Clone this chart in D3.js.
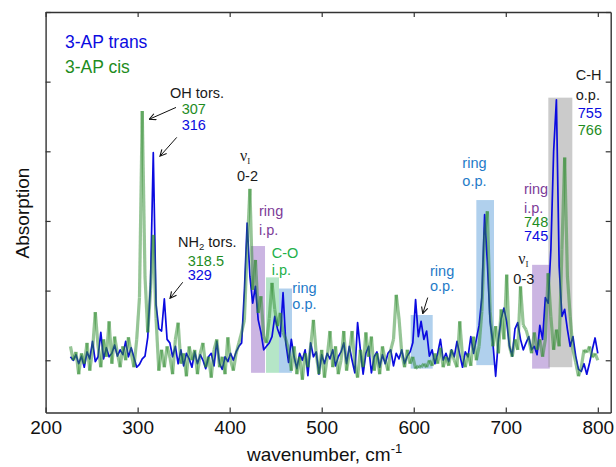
<!DOCTYPE html>
<html>
<head>
<meta charset="utf-8">
<script src="https://cdn.jsdelivr.net/npm/d3@7"></script>
<style>
  body { margin: 0; background: #fff; }
  #chart svg { display: block; font-family: "Liberation Sans", Arial, sans-serif; }
</style>
</head>
<body>
<div id="chart"></div>
<script>
// wavenumber grid, cm-1 (3 cm-1 steps, 227..800)
var wavenumbers = d3.range(227, 801, 3);

// 3-AP trans (blue)
var transValues = [
  0.05, 0.0, 0.08, -0.05, 0.06, -0.1, 0.12, 0.02, 0.27, -0.02,     // 227
  0.05, 0.4, 0.02, 0.18, 0.05, 0.1, 0.22, 0.06, 0.15, 0.08,         // 257
  0.27, 0.05, 0.18, 0.04, -0.1, -0.06, 0.02, 0.06, 0.33, 1.1,       // 287
  2.98, 0.8, 0.45, 0.42, 0.88, 0.3, 0.25, 0.05, 0.2, -0.05,         // 317
  0.15, -0.08, 0.1, 0.02, -0.1, 0.12, -0.05, 0.08, 0.0, -0.12,      // 347
  0.05, 0.1, -0.08, 0.27, -0.05, -0.13, 0.05, -0.02, 0.1, 0.0,      // 377
  0.12, 0.2, 0.25, 1.0, 1.97, 1.2, 0.82, 1.06, 0.58, 0.4,           // 407
  0.15, 0.2, 0.25, 0.34, 0.63, 0.45, 0.34, 0.97, 0.25, -0.03,       // 437
  0.3, 0.05, -0.12, 0.1, 0.0, 0.15, -0.22, 0.25, 0.05, 0.12,        // 467
  -0.2, 0.08, -0.05, 0.1, 0.02, 0.15, -0.08, 0.05, 0.12, 0.25,      // 497
  -0.05, 0.2, 0.0, -0.18, 0.54, 0.15, -0.2, 0.1, 0.2, -0.18,        // 527
  0.05, 0.12, -0.1, 0.08, -0.05, 0.1, 0.15, -0.08, 0.1, 0.02,       // 557
  0.15, -0.05, 0.06, 0.12, 0.25, 0.87, 0.34, 0.56, 0.3, 0.42,       // 587
  0.06, 0.15, -0.05, 0.1, 0.3, 0.0, 0.1, -0.02, 0.15, 0.05,         // 617
  0.27, 0.08, -0.1, 0.12, 0.05, 0.34, 0.1, 0.3, 0.5, 0.9,           // 647
  2.09, 1.4, 0.55, 0.25, -0.23, 0.3, 0.6, 0.75, 0.55, 0.2,          // 677
  0.06, 0.45, 0.54, 0.3, 0.15, 0.25, 0.34, 0.15, 0.2, 0.08,         // 707
  0.5, 0.3, 0.9, 0.82, 1.59, 3.0, 3.74, 1.35, 0.63, 0.73,           // 737
  0.44, 0.2, 0.34, 0.06, -0.13, -0.16, -0.05, -0.2, -0.04, 0.15,    // 767
  0.32, 0.1                                                         // 797
];

// 3-AP cis (green)
var cisValues = [
  0.2, 0.0, 0.12, -0.2, 0.1, -0.05, 0.25, -0.15, 0.15, 0.69,        // 227
  0.2, -0.1, 0.3, 0.05, 0.56, -0.05, 0.34, 0.1, -0.1, 0.2,          // 257
  0.0, 0.33, 0.1, -0.1, 0.3, 0.9, 3.58, 1.2, 0.4, 1.0,              // 287
  1.8, 0.6, -0.15, 0.15, -0.1, 0.2, 0.05, -0.2, 0.3, 0.54,          // 317
  -0.05, 0.1, -0.23, 0.2, 0.0, 0.15, -0.2, 0.1, 0.25, -0.1,         // 347
  0.05, -0.25, 0.15, 0.3, -0.1, 0.05, -0.2, 0.33, 0.0, -0.15,       // 377
  0.1, 0.25, 0.4, 0.58, 1.6, 2.46, 1.01, 1.44, 0.68, 0.92,          // 407
  0.34, 0.25, 0.6, 1.11, 0.73, 0.49, 0.68, 0.4, 0.3, 0.15,          // 437
  -0.15, 0.2, -0.2, 0.05, -0.28, 0.1, -0.1, 0.2, 0.58, 0.1,         // 467
  -0.2, 0.15, -0.25, 0.05, 0.42, -0.1, 0.2, -0.2, 0.0, 0.42,        // 497
  -0.15, 0.1, 0.42, -0.05, -0.25, 0.15, -0.1, 0.4, 0.05, 0.34,      // 527
  -0.15, 0.1, -0.2, 0.2, 0.0, -0.15, 0.15, 0.3, 0.94, 0.6,          // 557
  0.1, -0.1, 0.15, -0.05, 0.05, -0.12, -0.08, -0.1, -0.05, -0.1,    // 587
  0.0, -0.08, 0.1, -0.05, 0.18, -0.1, 0.05, -0.08, 0.15, 0.0,       // 617
  -0.1, 0.56, 0.05, -0.1, 0.1, -0.08, 0.34, 0.0, 0.2, 0.7,          // 647
  1.8, 2.14, 0.7, 0.2, 0.49, 0.1, 0.73, 0.3, 1.23, 0.2,             // 677
  0.05, 0.3, 0.15, 1.06, 0.5, 0.44, 0.3, 0.1, 0.4, 0.15,            // 707
  0.3, 0.05, 0.3, 1.25, 0.63, 0.15, 0.44, 0.2, 1.59, 2.91,          // 737
  1.2, 0.63, 0.15, -0.03, -0.23, -0.1, 0.15, 0.11, 0.2, 0.04,       // 767
  0.1, 0.0                                                          // 797
];

var xTicks = [200, 300, 400, 500, 600, 700, 800];
var yTicks = [0, 1, 2, 3, 4, 5];

// band highlights: [from, to] cm-1, [bottom, top] absorption
var bandNames = ['ring i.p. 430', 'C-O i.p.', 'ring o.p. 460', 'ring o.p. 610', 'ring o.p. 680', 'ring i.p. 745', 'C-H o.p.'];
var bandRanges = [[423.2, 438.4], [439.5, 453.6], [453.6, 467.7], [596.7, 620.6], [668, 687.2], [728.6, 747.8], [746.2, 772.3]];
var bandHeights = [[-0.18, 1.64], [-0.18, 1.19], [-0.18, 1.03], [-0.12, 0.65], [-0.07, 2.3], [-0.12, 1.37], [-0.1, 3.77]];
var bandKinds = ['purple', 'green', 'blue', 'blue', 'blue', 'purple', 'gray'];

var colors = {
  trans: '#0b0be0',
  cis: '#2e8b2e',
  black: '#1a1a1a',
  purple: '#7d3c98',
  green: '#22b04a',
  blue: '#1f7bc8',
  darkGreen: '#1e8c1e'
};
var bandFill = {
  purple: 'rgb(140,90,190)',
  green: 'rgb(90,200,130)',
  blue: 'rgb(80,150,215)',
  gray: 'rgb(140,140,140)'
};

var width = 616,
  height = 467;

var svg = d3.select('#chart')
  .append('svg')
  .attr('width', width)
  .attr('height', height);

var x = d3.scaleLinear().domain([200, 814]).range([45.6, 610.7]);
var y = d3.scaleLinear().domain([-0.75, 5]).range([412.5, 12]);

// shaded bands
svg.append('g')
  .selectAll('rect')
  .data(bandNames)
  .enter()
  .append('rect')
  .attr('x', function(d, i) { return x(bandRanges[i][0]); })
  .attr('width', function(d, i) { return x(bandRanges[i][1]) - x(bandRanges[i][0]); })
  .attr('y', function(d, i) { return y(bandHeights[i][1]); })
  .attr('height', function(d, i) { return y(bandHeights[i][0]) - y(bandHeights[i][1]); })
  .attr('fill', function(d, i) { return bandFill[bandKinds[i]]; })
  .attr('fill-opacity', 0.45);

// trans spectrum
var line = d3.line()
  .x(function(d) { return x(d[0]); })
  .y(function(d) { return y(d[1]); });

var transPoints = wavenumbers.map(function(w, i) { return [w, transValues[i]]; });
svg.append('path')
  .datum(transPoints)
  .attr('d', line)
  .attr('fill', 'none')
  .attr('stroke', colors.trans)
  .attr('stroke-width', 1.7)
  .attr('stroke-linejoin', 'round');

// cis spectrum, drawn as translucent segments
var cisSegments = [];
for (var i = 0; i < wavenumbers.length - 1; i++) {
  cisSegments.push([[wavenumbers[i], cisValues[i]], [wavenumbers[i + 1], cisValues[i + 1]]]);
}
svg.append('g')
  .selectAll('path')
  .data(cisSegments)
  .enter()
  .append('path')
  .attr('d', line)
  .attr('fill', 'none')
  .attr('stroke', colors.cis)
  .attr('stroke-opacity', 0.5)
  .attr('stroke-width', 3.2);

// axes, ticks pointing inward
var gx = svg.append('g')
  .attr('transform', 'translate(0,' + y.range()[0] + ')')
  .call(d3.axisBottom(x).tickValues(xTicks).tickSize(-5).tickSizeOuter(0).tickPadding(8));
svg.append('g')
  .attr('transform', 'translate(0,' + y.range()[1] + ')')
  .call(d3.axisTop(x).tickValues(xTicks).tickSize(-5).tickSizeOuter(0).tickFormat(''));
svg.append('g')
  .attr('transform', 'translate(' + x.range()[0] + ',0)')
  .call(d3.axisLeft(y).tickValues(yTicks).tickSize(-5).tickSizeOuter(0).tickFormat(''));
svg.append('g')
  .attr('transform', 'translate(' + x.range()[1] + ',0)')
  .call(d3.axisRight(y).tickValues(yTicks).tickSize(-5).tickSizeOuter(0).tickFormat(''));

svg.selectAll('.domain').attr('stroke', '#333').attr('stroke-width', 1.4);
svg.selectAll('.tick line').attr('stroke', '#333').attr('stroke-width', 1.2);
gx.selectAll('.tick text')
  .attr('font-size', 19)
  .attr('font-family', '"Liberation Sans", Arial, sans-serif')
  .attr('fill', '#111');

// axis titles
svg.append('text')
  .attr('transform', 'translate(29,213) rotate(-90)')
  .attr('text-anchor', 'middle')
  .attr('font-size', 19)
  .attr('fill', '#111')
  .text('Absorption');

var xTitle = svg.append('text')
  .attr('x', 247)
  .attr('y', 461)
  .attr('font-size', 19)
  .attr('fill', '#111');
xTitle.append('tspan').text('wavenumber, cm');
xTitle.append('tspan').attr('dy', -8).attr('font-size', 13).text('-1');

// annotation texts: [text, wavenumber, absorption, colour, size]
var labelTexts = ['3-AP trans', '3-AP cis', 'OH tors.', '307', '316', '318.5', '329', '0-2',
  'ring', 'i.p.', 'C-O', 'i.p.', 'ring', 'o.p.', 'ring', 'o.p.', 'ring', 'o.p.',
  'ring', 'i.p.', '748', '745', '0-3', 'C-H', 'o.p.', '755', '766'];
var labelW = [221.1, 221.1, 335.2, 347.9, 347.9, 354.4, 354.4, 408,
  431.9, 431.9, 445.7, 445.7, 468.1, 468.1, 617.7, 617.7, 652.8, 652.8,
  719.8, 719.8, 719.8, 719.8, 708.2, 776, 776, 778.2, 778.2];
var labelV = [4.48, 4.13, 3.77, 3.54, 3.3, 1.35, 1.15, 2.58,
  2.07, 1.8, 1.47, 1.22, 0.97, 0.73, 1.21, 0.99, 2.76, 2.5,
  2.38, 2.12, 1.92, 1.71, 1.1, 4.02, 3.73, 3.48, 3.24];
var labelKind = ['trans', 'darkGreen', 'black', 'darkGreen', 'trans', 'darkGreen', 'trans', 'black',
  'purple', 'purple', 'green', 'green', 'blue', 'blue', 'blue', 'blue', 'blue', 'blue',
  'purple', 'purple', 'darkGreen', 'trans', 'black', 'black', 'black', 'trans', 'darkGreen'];

svg.append('g')
  .selectAll('text')
  .data(labelTexts)
  .enter()
  .append('text')
  .attr('x', function(d, i) { return x(labelW[i]); })
  .attr('y', function(d, i) { return y(labelV[i]); })
  .attr('font-size', function(d, i) { return i < 2 ? 17.5 : 14.5; })
  .attr('fill', function(d, i) { return colors[labelKind[i]]; })
  .text(function(d) { return d; });

// NH2 tors. with subscript
var nh2 = svg.append('text')
  .attr('x', x(343.9))
  .attr('y', y(1.62))
  .attr('font-size', 14.5)
  .attr('fill', colors.black);
nh2.append('tspan').text('NH');
nh2.append('tspan').attr('dy', 3).attr('font-size', 9.5).text('2');
nh2.append('tspan').attr('dy', -3).text(' tors.');

// nu_I vibrational labels
var nuW = [411.2, 713.6],
  nuV = [2.86, 1.38];
nuW.forEach(function(w, i) {
  var t = svg.append('text')
    .attr('x', x(w))
    .attr('y', y(nuV[i]))
    .attr('font-family', '"Liberation Serif", "Times New Roman", serif')
    .attr('font-size', 16)
    .attr('fill', colors.black);
  t.append('tspan').text('\u03bd');
  t.append('tspan').attr('dy', 3).attr('font-size', 9).text('I');
});

// arrows: [from wavenumber, from absorption, to wavenumber, to absorption]
var arrows = [[341.7, 3.63, 312.7, 3.46], [342.5, 3.2, 324.3, 2.93], [349, 1.12, 335.2, 0.89], [615.2, 0.9, 609.8, 0.67]];

svg.append('defs').append('marker')
  .attr('id', 'head')
  .attr('viewBox', '0 0 10 10')
  .attr('refX', 9)
  .attr('refY', 5)
  .attr('markerWidth', 8)
  .attr('markerHeight', 8)
  .attr('markerUnits', 'userSpaceOnUse')
  .attr('orient', 'auto')
  .append('path')
  .attr('d', 'M1,1 L9,5 L1,9')
  .attr('fill', 'none')
  .attr('stroke', '#111')
  .attr('stroke-width', 1.4);

svg.append('g')
  .selectAll('line')
  .data(arrows)
  .enter()
  .append('line')
  .attr('x1', function(d) { return x(d[0]); })
  .attr('y1', function(d) { return y(d[1]); })
  .attr('x2', function(d) { return x(d[2]); })
  .attr('y2', function(d) { return y(d[3]); })
  .attr('stroke', '#111')
  .attr('stroke-width', 1)
  .attr('marker-end', 'url(#head)');
</script>
</body>
</html>
